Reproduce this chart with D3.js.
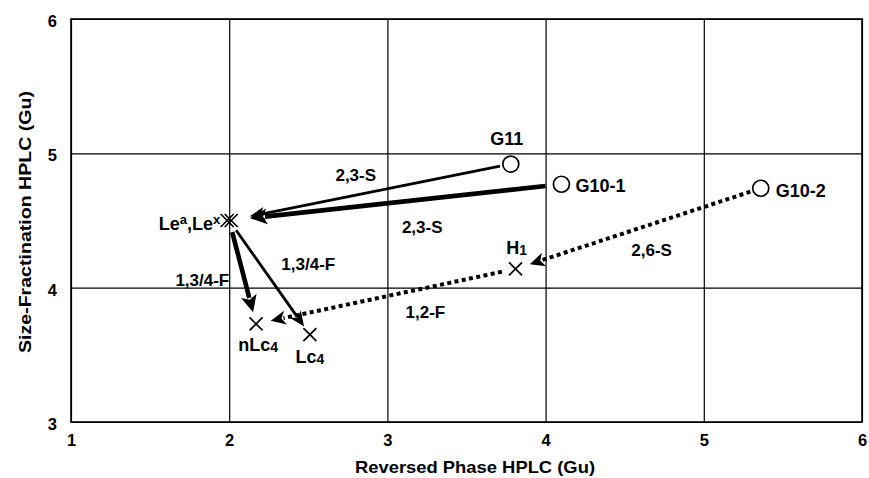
<!DOCTYPE html>
<html>
<head>
<meta charset="utf-8">
<title>Size-Fractionation vs Reversed Phase HPLC</title>
<style>
    body { margin: 0; background: #fff; }
    text {
        font-family: "Liberation Sans", Arial, sans-serif;
        font-weight: bold;
        fill: #000;
    }
    .grid line { stroke: #000; stroke-width: 1.2; }
    .grid path { display: none; }
</style>
</head>
<body>
<div id="chart"></div>
<script src="https://cdn.jsdelivr.net/npm/d3@7"></script>
<script>
    // glycan positions (glucose units)
    let nodeNames = ["G11", "G10-1", "G10-2", "H1", "Le", "nLc4", "Lc4"]
    let nodeRP    = [3.78, 4.10, 5.36, 3.81, 2.00, 2.17, 2.51]
    let nodeSF    = [4.92, 4.77, 4.74, 4.14, 4.50, 3.73, 3.65]
    let nodeShape = ["circle", "circle", "circle", "cross", "double", "cross", "cross"]

    // enzyme digestion arrows
    let arrowFrom = ["G11", "G10-1", "Le", "Le", "G10-2", "H1"]
    let arrowTo   = ["Le", "Le", "nLc4", "Lc4", "H1", "nLc4"]
    let arrowKind = ["thin", "thick", "thick", "thin", "dotted", "dotted"]

    // enzyme labels
    let enzymeText = ["2,3-S", "2,3-S", "1,3/4-F", "1,3/4-F", "2,6-S", "1,2-F"]
    let enzymeRP   = [2.80, 3.22, 1.83, 2.50, 4.67, 3.24]
    let enzymeSF   = [4.84, 4.45, 4.06, 4.18, 4.28, 3.82]

    let xTicks = [1, 2, 3, 4, 5, 6]
    let yTicks = [3, 4, 5, 6]

    let width = 869, height = 478
    let pLeft = 71, pRight = 862, pTop = 19, pBottom = 422

    let svg = d3.select("#chart").append("svg")
        .attr("width", width)
        .attr("height", height)

    let x = d3.scaleLinear().domain([1, 6]).range([pLeft, pRight])
    let y = d3.scaleLinear().domain([3, 6]).range([pBottom, pTop])

    // grid + tick labels
    let xAxis = svg.append("g")
        .attr("class", "grid")
        .attr("transform", "translate(0," + pBottom + ")")
        .call(d3.axisBottom(x).tickValues(xTicks).tickFormat(d3.format("d"))
            .tickSizeInner(-(pBottom - pTop)).tickSizeOuter(0).tickPadding(12))
    xAxis.selectAll("text").attr("font-size", 16.5)

    let yAxis = svg.append("g")
        .attr("class", "grid")
        .attr("transform", "translate(" + pLeft + ",0)")
        .call(d3.axisLeft(y).tickValues(yTicks).tickFormat(d3.format("d"))
            .tickSizeInner(-(pRight - pLeft)).tickSizeOuter(0).tickPadding(14))
    yAxis.selectAll("text").attr("font-size", 16.5).attr("dy", "0.45em")

    svg.append("rect")
        .attr("x", pLeft).attr("y", pTop)
        .attr("width", pRight - pLeft).attr("height", pBottom - pTop)
        .attr("fill", "none").attr("stroke", "#000").attr("stroke-width", 1.6)

    // axis titles
    svg.append("text")
        .attr("x", 475).attr("y", 473)
        .attr("text-anchor", "middle").attr("font-size", 17)
        .attr("textLength", 240).attr("lengthAdjust", "spacingAndGlyphs")
        .text("Reversed Phase HPLC (Gu)")

    svg.append("text")
        .attr("transform", "translate(31,222) rotate(-90)")
        .attr("text-anchor", "middle").attr("font-size", 17)
        .attr("textLength", 262).attr("lengthAdjust", "spacingAndGlyphs")
        .text("Size-Fractination HPLC (Gu)")

    // node pixel positions
    let pos = {}
    nodeNames.forEach(function(n, i) {
        pos[n] = [x(nodeRP[i]), y(nodeSF[i])]
    })

    // arrows
    let kinds = {
        thin:   { w: 2.8, dash: null,    len: 15, half: 6.5 },
        thick:  { w: 4.6, dash: null,    len: 17, half: 8 },
        dotted: { w: 4,   dash: "4,3.4", len: 15, half: 7 }
    }
    let gapOut = { "G11": 11, "G10-1": 16, "G10-2": 11, "H1": 14, "Le": 12 }
    let gapIn  = { "Le": 21, "nLc4": 12, "Lc4": 10, "H1": 15 }

    arrowFrom.forEach(function(f, i) {
        let t = arrowTo[i]
        let k = kinds[arrowKind[i]]
        let p0 = pos[f], p1 = pos[t]
        let dx = p1[0] - p0[0], dy = p1[1] - p0[1]
        let L = Math.sqrt(dx * dx + dy * dy)
        let ux = dx / L, uy = dy / L
        let gi = gapIn[t]
        if (f === "H1") gi = 15
        let s = [p0[0] + ux * gapOut[f], p0[1] + uy * gapOut[f]]
        let e = [p1[0] - ux * gi, p1[1] - uy * gi]
        let b = [e[0] - ux * k.len, e[1] - uy * k.len]

        svg.append("line")
            .attr("x1", s[0]).attr("y1", s[1])
            .attr("x2", b[0] + ux * 2).attr("y2", b[1] + uy * 2)
            .attr("stroke", "#000")
            .attr("stroke-width", k.w)
            .attr("stroke-dasharray", k.dash)

        let px = -uy, py = ux
        svg.append("path")
            .attr("d", "M" + e[0] + "," + e[1] +
                "L" + (b[0] + px * k.half) + "," + (b[1] + py * k.half) +
                "L" + (b[0] + ux * 4) + "," + (b[1] + uy * 4) +
                "L" + (b[0] - px * k.half) + "," + (b[1] - py * k.half) + "Z")
            .attr("fill", "#000")
    })

    // markers
    function cross(cx, cy, r) {
        svg.append("path")
            .attr("d", "M" + (cx - r) + "," + (cy - r) + "L" + (cx + r) + "," + (cy + r) +
                "M" + (cx - r) + "," + (cy + r) + "L" + (cx + r) + "," + (cy - r))
            .attr("stroke", "#000").attr("stroke-width", 1.7).attr("fill", "none")
    }
    nodeNames.forEach(function(n, i) {
        let p = pos[n]
        if (nodeShape[i] === "circle") {
            svg.append("circle")
                .attr("cx", p[0]).attr("cy", p[1]).attr("r", 8)
                .attr("fill", "#fff").attr("stroke", "#000").attr("stroke-width", 1.7)
        } else if (nodeShape[i] === "double") {
            cross(p[0] - 2, p[1], 6.5)
            cross(p[0] + 2, p[1], 6.5)
        } else {
            cross(p[0], p[1], 6.5)
        }
    })

    // node labels: parts are [text, "n" normal | "sup" | "sub"]
    let labels = {
        "G11":   { parts: [["G11", "n"]], anchor: "middle", dx: -4, dy: -26 },
        "G10-1": { parts: [["G10-1", "n"]], anchor: "start", dx: 14, dy: 1 },
        "G10-2": { parts: [["G10-2", "n"]], anchor: "start", dx: 15, dy: 2 },
        "H1":    { parts: [["H", "n"], ["1", "sub"]], anchor: "middle", dx: 1, dy: -21 },
        "Le":    { parts: [["Le", "n"], ["a", "sup"], [",Le", "n"], ["x", "sup"]], anchor: "end", dx: -9, dy: 3 },
        "nLc4":  { parts: [["nLc", "n"], ["4", "sub"]], anchor: "middle", dx: 2, dy: 21 },
        "Lc4":   { parts: [["Lc", "n"], ["4", "sub"]], anchor: "middle", dx: 0, dy: 22 }
    }
    nodeNames.forEach(function(n) {
        let lb = labels[n]
        let t = svg.append("text")
            .attr("x", pos[n][0] + lb.dx)
            .attr("y", pos[n][1] + lb.dy)
            .attr("dy", "0.36em")
            .attr("text-anchor", lb.anchor)
            .attr("font-size", 18)
        let shifted = false
        lb.parts.forEach(function(pt) {
            let sp = t.append("tspan").text(pt[0])
            if (pt[1] === "sup") { sp.attr("font-size", 13).attr("dy", -6); shifted = true }
            else if (pt[1] === "sub") sp.attr("font-size", 14).attr("dy", 1)
            else if (shifted) { sp.attr("dy", 6); shifted = false }
        })
    })

    // enzyme labels
    svg.selectAll(".enz")
        .data(enzymeText)
        .enter()
        .append("text")
        .attr("class", "enz")
        .attr("x", function(d, i) { return x(enzymeRP[i]) })
        .attr("y", function(d, i) { return y(enzymeSF[i]) })
        .attr("dy", "0.36em")
        .attr("text-anchor", "middle")
        .attr("font-size", 17)
        .text(function(d) { return d })
</script>
</body>
</html>
